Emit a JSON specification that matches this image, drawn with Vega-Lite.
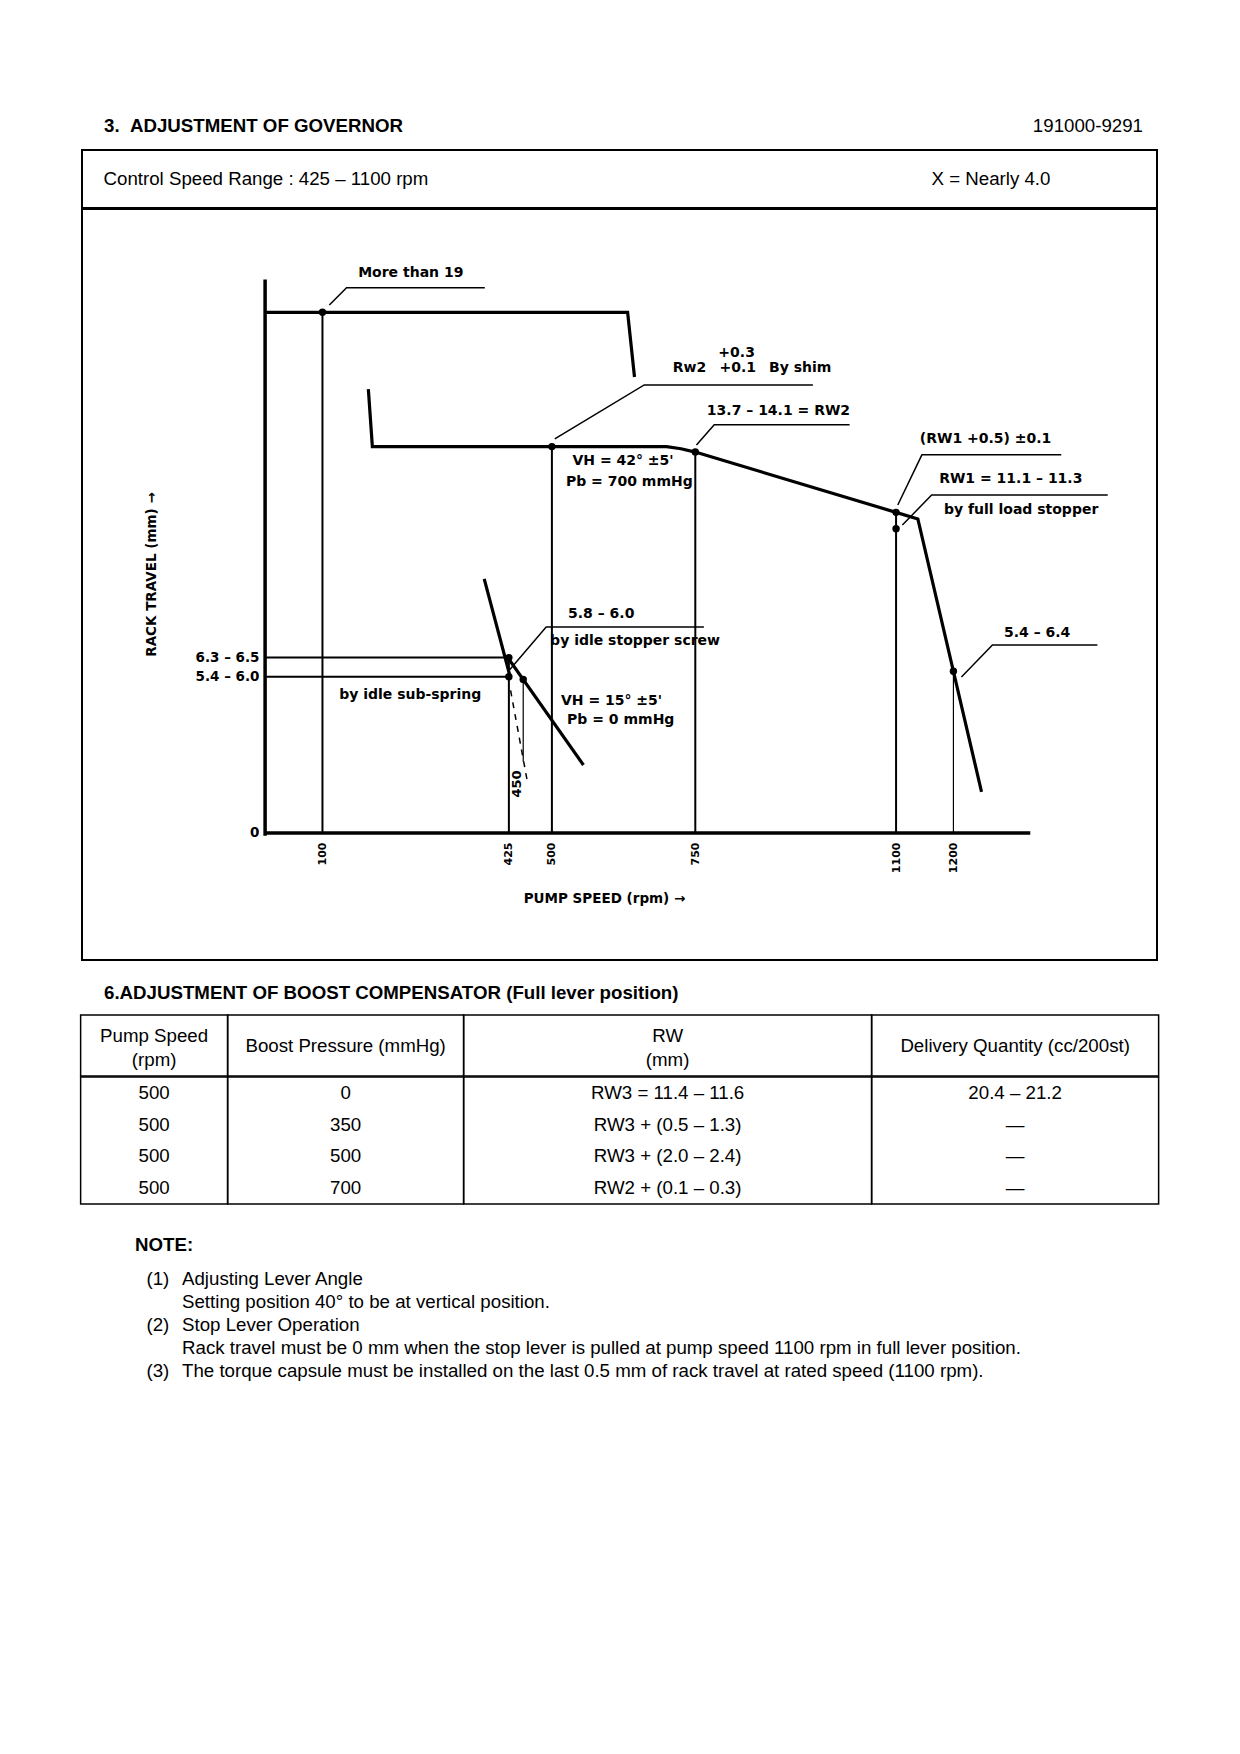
{
  "$schema": "https://vega.github.io/schema/vega-lite/v6.json",
  "background": "white",
  "padding": {"left": 0, "top": 101, "right": 0, "bottom": 0},
  "spacing": -2,
  "center": true,
  "bounds": "full",
  "config": {
    "view": {"stroke": null},
    "concat": {"spacing": 0},
    "text": {"font": "Liberation Sans", "fontSize": 18.7, "color": "black"},
    "title": {"font": "Liberation Sans", "color": "black"}
  },
  "datasets": {
    "curves": [
      {"series": "max", "seq": 1, "rpm": 0, "mm": 19},
      {"series": "max", "seq": 2, "rpm": 632, "mm": 19},
      {"series": "max", "seq": 3, "rpm": 644, "mm": 16.64},
      {"series": "full", "seq": 1, "rpm": 180, "mm": 16.2},
      {"series": "full", "seq": 2, "rpm": 187, "mm": 14.1},
      {"series": "full", "seq": 3, "rpm": 700, "mm": 14.1},
      {"series": "full", "seq": 4, "rpm": 725, "mm": 14.02},
      {"series": "full", "seq": 5, "rpm": 750, "mm": 13.9},
      {"series": "full", "seq": 6, "rpm": 1100, "mm": 11.7},
      {"series": "full", "seq": 7, "rpm": 1138, "mm": 11.46},
      {"series": "full", "seq": 8, "rpm": 1200, "mm": 5.9},
      {"series": "full", "seq": 9, "rpm": 1249, "mm": 1.5},
      {"series": "idle1", "seq": 1, "rpm": 382, "mm": 9.27},
      {"series": "idle1", "seq": 2, "rpm": 426, "mm": 5.8},
      {"series": "idle2", "seq": 1, "rpm": 425, "mm": 6.34},
      {"series": "idle2", "seq": 2, "rpm": 555, "mm": 2.48}
    ],
    "leaders": [
      {"id": "L1", "seq": 1, "rpm": 112, "mm": 19.27},
      {"id": "L1", "seq": 2, "rpm": 142, "mm": 19.9},
      {"id": "L1", "seq": 3, "rpm": 383, "mm": 19.9},
      {"id": "L2", "seq": 1, "rpm": 505, "mm": 14.38},
      {"id": "L2", "seq": 2, "rpm": 661, "mm": 16.35},
      {"id": "L2", "seq": 3, "rpm": 955, "mm": 16.35},
      {"id": "L3", "seq": 1, "rpm": 752, "mm": 14.16},
      {"id": "L3", "seq": 2, "rpm": 783, "mm": 14.9},
      {"id": "L3", "seq": 3, "rpm": 1019, "mm": 14.9},
      {"id": "L4", "seq": 1, "rpm": 1103, "mm": 11.97},
      {"id": "L4", "seq": 2, "rpm": 1145, "mm": 13.8},
      {"id": "L4", "seq": 3, "rpm": 1388, "mm": 13.8},
      {"id": "L5", "seq": 1, "rpm": 1111, "mm": 11.24},
      {"id": "L5", "seq": 2, "rpm": 1162, "mm": 12.33},
      {"id": "L5", "seq": 3, "rpm": 1469, "mm": 12.33},
      {"id": "L6", "seq": 1, "rpm": 1214, "mm": 5.69},
      {"id": "L6", "seq": 2, "rpm": 1268, "mm": 6.86},
      {"id": "L6", "seq": 3, "rpm": 1451, "mm": 6.86},
      {"id": "L7", "seq": 1, "rpm": 426, "mm": 5.95},
      {"id": "L7", "seq": 2, "rpm": 490, "mm": 7.52},
      {"id": "L7", "seq": 3, "rpm": 765, "mm": 7.52}
    ],
    "axisLines": [
      {"rpm": 0, "mm": -0.1, "rpm2": 0, "mm2": 20.2},
      {"rpm": 0, "mm": 0, "rpm2": 1334, "mm2": 0}
    ],
    "levels": [
      {"rpm": 0, "mm": 6.4, "rpm2": 425, "mm2": 6.4},
      {"rpm": 0, "mm": 5.7, "rpm2": 425, "mm2": 5.7}
    ],
    "drops": [
      {"rpm": 100, "mm": 19, "mm2": 0},
      {"rpm": 425, "mm": 6.4, "mm2": 0},
      {"rpm": 500, "mm": 14.1, "mm2": 0},
      {"rpm": 750, "mm": 13.9, "mm2": 0},
      {"rpm": 1100, "mm": 11.7, "mm2": 0}
    ],
    "thinDrops": [
      {"rpm": 1200, "mm": 5.9, "mm2": 0},
      {"rpm": 450, "mm": 5.6, "mm2": 2.6}
    ],
    "dashed": [
      {"rpm": 428, "mm": 5.2, "rpm2": 457, "mm2": 1.9}
    ],
    "points": [
      {"rpm": 100, "mm": 19},
      {"rpm": 500, "mm": 14.1},
      {"rpm": 750, "mm": 13.9},
      {"rpm": 1100, "mm": 11.7},
      {"rpm": 1100, "mm": 11.1},
      {"rpm": 1200, "mm": 5.9},
      {"rpm": 425, "mm": 6.4},
      {"rpm": 425, "mm": 5.7},
      {"rpm": 450, "mm": 5.6}
    ],
    "labels": [
      {"rpm": 254, "mm": 20.45, "label": "More than 19"},
      {"rpm": 822, "mm": 17.5, "label": "+0.3"},
      {"rpm": 740, "mm": 16.98, "label": "Rw2"},
      {"rpm": 824, "mm": 16.98, "label": "+0.1"},
      {"rpm": 933, "mm": 16.98, "label": "By shim"},
      {"rpm": 895, "mm": 15.4, "label": "13.7 – 14.1 = RW2"},
      {"rpm": 624, "mm": 13.56, "label": "VH = 42° ±5'"},
      {"rpm": 635, "mm": 12.82, "label": "Pb = 700 mmHg"},
      {"rpm": 1256, "mm": 14.38, "label": "(RW1 +0.5) ±0.1"},
      {"rpm": 1300, "mm": 12.92, "label": "RW1 = 11.1 – 11.3"},
      {"rpm": 1318, "mm": 11.78, "label": "by full load stopper"},
      {"rpm": 1346, "mm": 7.3, "label": "5.4 – 6.4"},
      {"rpm": 586, "mm": 8.0, "label": "5.8 – 6.0"},
      {"rpm": 645, "mm": 7.0, "label": "by idle stopper screw"},
      {"rpm": 253, "mm": 5.03, "label": "by idle sub-spring"},
      {"rpm": 604, "mm": 4.8, "label": "VH = 15° ±5'"},
      {"rpm": 620, "mm": 4.13, "label": "Pb = 0 mmHg"}
    ],
    "rotLabels": [
      {"rpm": 440, "mm": 1.79, "label": "450"}
    ],
    "boost": [
      {"row": 1, "speed": 500, "pressure": 0, "rw": "RW3 = 11.4 – 11.6", "delivery": "20.4 – 21.2"},
      {"row": 2, "speed": 500, "pressure": 350, "rw": "RW3 + (0.5 – 1.3)", "delivery": "—"},
      {"row": 3, "speed": 500, "pressure": 500, "rw": "RW3 + (2.0 – 2.4)", "delivery": "—"},
      {"row": 4, "speed": 500, "pressure": 700, "rw": "RW2 + (0.1 – 0.3)", "delivery": "—"}
    ],
    "notes": [
      {"line": 1, "num": "(1)", "text": "Adjusting Lever Angle"},
      {"line": 2, "num": "", "text": "Setting position 40° to be at vertical position."},
      {"line": 3, "num": "(2)", "text": "Stop Lever Operation"},
      {"line": 4, "num": "", "text": "Rack travel must be 0 mm when the stop lever is pulled at pump speed 1100 rpm in full lever position."},
      {"line": 5, "num": "(3)", "text": "The torque capsule must be installed on the last 0.5 mm of rack travel at rated speed (1100 rpm)."}
    ]
  },
  "vconcat": [
    {
      "width": 1240, "height": 49,
      "layer": [
        {
          "data": {"values": [{"slot": "left", "label": "3.\u00a0\u00a0ADJUSTMENT OF GOVERNOR"}]},
          "mark": {"type": "text", "align": "left", "baseline": "middle", "fontWeight": "bold", "dx": 104},
          "encoding": {
            "x": {"field": "slot", "type": "nominal", "scale": {"type": "point", "domain": ["left", "right"], "padding": 0}, "axis": null},
            "text": {"field": "label"}
          }
        },
        {
          "data": {"values": [{"slot": "right", "label": "191000-9291"}]},
          "mark": {"type": "text", "align": "right", "baseline": "middle", "dx": -97},
          "encoding": {
            "x": {"field": "slot", "type": "nominal", "scale": {"type": "point", "domain": ["left", "right"], "padding": 0}, "axis": null},
            "text": {"field": "label"}
          }
        }
      ]
    },
    {
      "width": 1075, "height": 58,
      "view": {"stroke": "black", "strokeWidth": 2},
      "layer": [
        {
          "data": {"values": [{"slot": "left", "label": "Control Speed Range : 425 – 1100 rpm"}]},
          "mark": {"type": "text", "align": "left", "baseline": "middle", "dx": 21.5},
          "encoding": {
            "x": {"field": "slot", "type": "nominal", "scale": {"type": "point", "domain": ["left", "right"], "padding": 0}, "axis": null},
            "text": {"field": "label"}
          }
        },
        {
          "data": {"values": [{"slot": "right", "label": "X = Nearly 4.0"}]},
          "mark": {"type": "text", "align": "left", "baseline": "middle", "dx": -225.5},
          "encoding": {
            "x": {"field": "slot", "type": "nominal", "scale": {"type": "point", "domain": ["left", "right"], "padding": 0}, "axis": null},
            "text": {"field": "label"}
          }
        }
      ]
    },
    {
      "width": 1075, "height": 751,
      "view": {"stroke": "black", "strokeWidth": 2},
      "encoding": {
        "x": {
          "field": "rpm", "type": "quantitative",
          "scale": {"domain": [-319.2, 1554.9], "nice": false, "zero": false},
          "axis": {
            "title": "PUMP SPEED (rpm) →",
            "values": [100, 425, 500, 750, 1100, 1200], "format": "d",
            "offset": -127, "domain": false, "ticks": false, "tickSize": 0, "grid": false,
            "labelAngle": -90, "labelPadding": 9, "labelFont": "DejaVu Sans", "labelFontWeight": "bold",
            "labelFontSize": 11, "labelColor": "black", "labelOverlap": false, "labelFlush": false,
            "titleFont": "DejaVu Sans", "titleFontWeight": "bold", "titleFontSize": 13.5, "titleColor": "black",
            "titleX": 522, "titleY": 65, "titleBaseline": "middle", "titleAlign": "center"
          }
        },
        "y": {
          "field": "mm", "type": "quantitative",
          "scale": {"domain": [-4.635, 22.77], "nice": false, "zero": false},
          "axis": {
            "title": "RACK TRAVEL (mm) →",
            "values": [0, 5.7, 6.4],
            "labelExpr": "datum.value == 0 ? '0' : (datum.value < 6 ? '5.4 – 6.0' : '6.3 – 6.5')",
            "offset": -183, "domain": false, "ticks": false, "tickSize": 0, "grid": false,
            "labelPadding": 6, "labelFont": "DejaVu Sans", "labelFontWeight": "bold", "labelFontSize": 13.5,
            "labelColor": "black", "labelOverlap": false, "labelFlush": false,
            "titleFont": "DejaVu Sans", "titleFontWeight": "bold", "titleFontSize": 13.5, "titleColor": "black",
            "titleX": -114, "titleY": 365, "titleBaseline": "middle", "titleAlign": "center", "titleAngle": 270
          }
        }
      },
      "layer": [
        {
          "data": {"name": "axisLines"},
          "mark": {"type": "rule", "color": "black", "strokeWidth": 3.5},
          "encoding": {"x2": {"field": "rpm2"}, "y2": {"field": "mm2"}}
        },
        {
          "data": {"name": "levels"},
          "mark": {"type": "rule", "color": "black", "strokeWidth": 2},
          "encoding": {"x2": {"field": "rpm2"}, "y2": {"field": "mm2"}}
        },
        {
          "data": {"name": "drops"},
          "mark": {"type": "rule", "color": "black", "strokeWidth": 2},
          "encoding": {"y2": {"field": "mm2"}}
        },
        {
          "data": {"name": "thinDrops"},
          "mark": {"type": "rule", "color": "black", "strokeWidth": 1.2},
          "encoding": {"y2": {"field": "mm2"}}
        },
        {
          "data": {"name": "dashed"},
          "mark": {"type": "rule", "color": "black", "strokeWidth": 1.5, "strokeDash": [6, 6]},
          "encoding": {"x2": {"field": "rpm2"}, "y2": {"field": "mm2"}}
        },
        {
          "data": {"name": "curves"},
          "mark": {"type": "line", "color": "black", "strokeWidth": 3.2},
          "encoding": {"detail": {"field": "series"}, "order": {"field": "seq"}}
        },
        {
          "data": {"name": "leaders"},
          "mark": {"type": "line", "color": "black", "strokeWidth": 1.5},
          "encoding": {"detail": {"field": "id"}, "order": {"field": "seq"}}
        },
        {
          "data": {"name": "points"},
          "mark": {"type": "point", "filled": true, "color": "black", "size": 55, "opacity": 1}
        },
        {
          "data": {"name": "labels"},
          "mark": {"type": "text", "font": "DejaVu Sans", "fontWeight": "bold", "fontSize": 14, "align": "center", "baseline": "middle"},
          "encoding": {"text": {"field": "label"}}
        },
        {
          "data": {"name": "rotLabels"},
          "mark": {"type": "text", "font": "DejaVu Sans", "fontWeight": "bold", "fontSize": 13, "align": "center", "baseline": "middle", "angle": 270},
          "encoding": {"text": {"field": "label"}}
        }
      ]
    },
    {
      "width": 1075, "height": 53.6,
      "data": {"values": [{"slot": "left", "label": "6.ADJUSTMENT OF BOOST COMPENSATOR (Full lever position)"}]},
      "mark": {"type": "text", "align": "left", "baseline": "middle", "fontWeight": "bold", "dx": 21.5, "dy": 5.2},
      "encoding": {
        "x": {"field": "slot", "type": "nominal", "scale": {"type": "point", "domain": ["left", "right"], "padding": 0}, "axis": null},
        "text": {"field": "label"}
      }
    },
    {
      "hconcat": [
        {
          "width": 147, "height": 61, "view": {"stroke": "black", "strokeWidth": 1.5},
          "data": {"values": [{"head": "Pump Speed\n(rpm)"}]},
          "mark": {"type": "text", "lineBreak": "\n", "lineHeight": 24, "dy": -10},
          "encoding": {"text": {"field": "head"}}
        },
        {
          "width": 236, "height": 61, "view": {"stroke": "black", "strokeWidth": 1.5},
          "data": {"values": [{"head": "Boost Pressure (mmHg)"}]},
          "mark": {"type": "text"},
          "encoding": {"text": {"field": "head"}}
        },
        {
          "width": 408, "height": 61, "view": {"stroke": "black", "strokeWidth": 1.5},
          "data": {"values": [{"head": "RW\n(mm)"}]},
          "mark": {"type": "text", "lineBreak": "\n", "lineHeight": 24, "dy": -10},
          "encoding": {"text": {"field": "head"}}
        },
        {
          "width": 287, "height": 61, "view": {"stroke": "black", "strokeWidth": 1.5},
          "data": {"values": [{"head": "Delivery Quantity (cc/200st)"}]},
          "mark": {"type": "text"},
          "encoding": {"text": {"field": "head"}}
        }
      ],
      "spacing": 0, "bounds": "flush"
    },
    {
      "hconcat": [
        {
          "width": 147, "height": 127, "view": {"stroke": "black", "strokeWidth": 1.5},
          "data": {"name": "boost"},
          "mark": {"type": "text"},
          "encoding": {"y": {"field": "row", "type": "ordinal", "axis": null}, "text": {"field": "speed", "type": "quantitative"}}
        },
        {
          "width": 236, "height": 127, "view": {"stroke": "black", "strokeWidth": 1.5},
          "data": {"name": "boost"},
          "mark": {"type": "text"},
          "encoding": {"y": {"field": "row", "type": "ordinal", "axis": null}, "text": {"field": "pressure", "type": "quantitative"}}
        },
        {
          "width": 408, "height": 127, "view": {"stroke": "black", "strokeWidth": 1.5},
          "data": {"name": "boost"},
          "mark": {"type": "text"},
          "encoding": {"y": {"field": "row", "type": "ordinal", "axis": null}, "text": {"field": "rw", "type": "nominal"}}
        },
        {
          "width": 287, "height": 127, "view": {"stroke": "black", "strokeWidth": 1.5},
          "data": {"name": "boost"},
          "mark": {"type": "text"},
          "encoding": {"y": {"field": "row", "type": "ordinal", "axis": null}, "text": {"field": "delivery", "type": "nominal"}}
        }
      ],
      "spacing": 0, "bounds": "flush"
    },
    {
      "width": 1075, "height": 61.25,
      "data": {"values": [{"slot": "left", "label": "NOTE:"}]},
      "mark": {"type": "text", "align": "left", "baseline": "middle", "fontWeight": "bold", "dx": 52.5, "dy": 8.9},
      "encoding": {
        "x": {"field": "slot", "type": "nominal", "scale": {"type": "point", "domain": ["left", "right"], "padding": 0}, "axis": null},
        "text": {"field": "label"}
      }
    },
    {
      "width": 1075, "height": 115,
      "data": {"name": "notes"},
      "encoding": {
        "y": {"field": "line", "type": "ordinal", "axis": null},
        "x": {"datum": "left", "type": "nominal", "scale": {"type": "point", "domain": ["left", "right"], "padding": 0}, "axis": null}
      },
      "layer": [
        {"mark": {"type": "text", "align": "left", "baseline": "middle", "dx": 64}, "encoding": {"text": {"field": "num"}}},
        {"mark": {"type": "text", "align": "left", "baseline": "middle", "dx": 99.5}, "encoding": {"text": {"field": "text"}}}
      ]
    }
  ]
}
